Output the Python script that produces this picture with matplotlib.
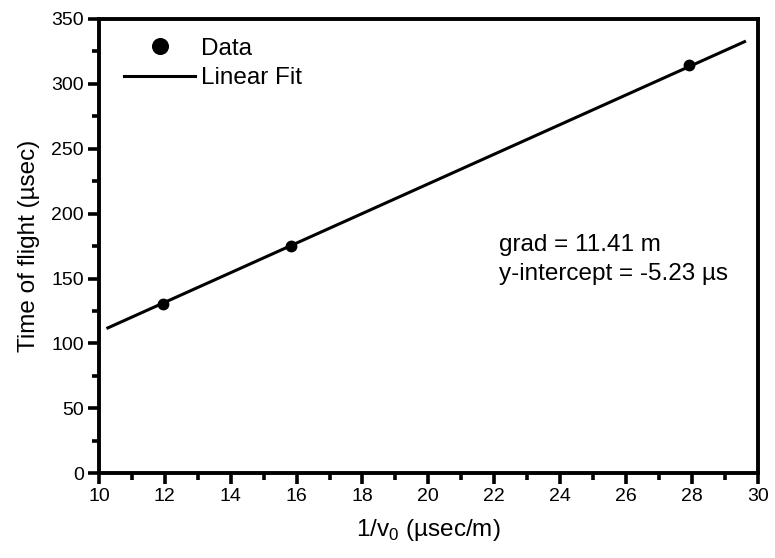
import numpy as np
import matplotlib
matplotlib.use("Agg")
import matplotlib.pyplot as plt
from matplotlib.ticker import MultipleLocator

plt.rcParams['font.family'] = ['Liberation Sans', 'DejaVu Sans']
plt.rcParams['mathtext.fontset'] = 'custom'
plt.rcParams['mathtext.rm'] = 'Liberation Sans'

# measured points
x_data = [11.93, 15.84, 27.9]
y_data = [130.6, 175.4, 314.5]

# fit parameters (from the annotation)
grad = 11.41
intercept = -5.23
fit_range = [10.27, 29.6]

fig = plt.figure(figsize=(7.75, 5.58), dpi=100)
ax = fig.add_axes([0.1277, 0.152, 0.850, 0.814])

xf = np.array(fit_range)
ax.plot(xf, grad * xf + intercept, color='black', lw=2.2, label='Linear Fit')
ax.plot(x_data, y_data, 'o', color='black', ms=7.5, label='Data')

ax.set_xlim(10, 30)
ax.set_ylim(0, 350)
ax.xaxis.set_major_locator(MultipleLocator(2))
ax.xaxis.set_minor_locator(MultipleLocator(1))
ax.yaxis.set_major_locator(MultipleLocator(50))
ax.yaxis.set_minor_locator(MultipleLocator(25))
ax.tick_params(which='major', direction='out', length=8, width=2.6, labelsize=14, pad=3)
ax.tick_params(which='minor', direction='out', length=5, width=2.6)
for s in ax.spines.values():
    s.set_linewidth(2.8)

ax.set_xlabel('1/v$_\\mathrm{0}$ (µsec/m)', fontsize=17.5, labelpad=8)
ax.set_ylabel('Time of flight (µsec)', fontsize=17.5, labelpad=8)

ax.text(0.608, 0.49, 'grad = 11.41 m', transform=ax.transAxes, fontsize=17.5)
ax.text(0.608, 0.425, 'y-intercept = -5.23 µs', transform=ax.transAxes, fontsize=17.5)

h, l = ax.get_legend_handles_labels()
ax.legend(h[::-1], l[::-1], loc='upper left', bbox_to_anchor=(0.02, 0.985),
          frameon=False, fontsize=17.5, handlelength=2.9, handletextpad=0.25,
          labelspacing=0.3, borderpad=0, markerscale=1.5)

fig.savefig('out.png', dpi=100)
